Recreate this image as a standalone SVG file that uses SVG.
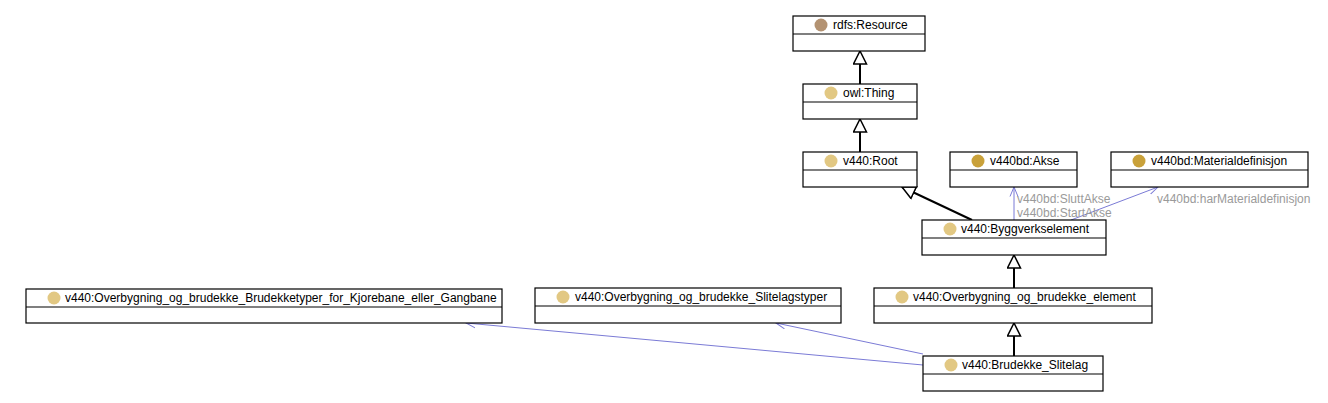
<svg xmlns="http://www.w3.org/2000/svg" width="1328" height="403" viewBox="0 0 1328 403">
<defs>
<style>
.box{fill:#fff;stroke:#000;stroke-width:1.2}
.div{stroke:#000;stroke-width:1.2}
.lbl{font-family:"Liberation Sans",Arial,sans-serif;font-size:12px;fill:#000;dominant-baseline:central}
.elbl{font-family:"Liberation Sans",Arial,sans-serif;font-size:12px;fill:#9a9a9a;dominant-baseline:central}
.inh{stroke:#000;stroke-width:2;fill:none;marker-end:url(#tri)}
.rel{stroke:#7b7bd6;stroke-width:1;fill:none;marker-end:url(#open)}
.c1{fill:#b39272}
.c2{fill:#e2c883}
.c3{fill:#c9a13a}
</style>
<marker id="tri" viewBox="0 0 15 15" refX="14" refY="7.5" markerWidth="15" markerHeight="15" markerUnits="userSpaceOnUse" orient="auto">
<path d="M1,1 L14,7.5 L1,14 Z" fill="#fff" stroke="#000" stroke-width="1.5"/>
</marker>
<marker id="open" viewBox="0 0 10 10" refX="9.5" refY="5" markerWidth="10" markerHeight="10" markerUnits="userSpaceOnUse" orient="auto">
<path d="M0,1 L9.5,5 L0,9" fill="none" stroke="#7b7bd6" stroke-width="1"/>
</marker>
</defs>
<rect width="1328" height="403" fill="#fff"/>
<g id="connectors">
<line class="inh" x1="860" y1="84" x2="860" y2="51"/>
<line class="inh" x1="860" y1="152" x2="860" y2="119"/>
<line class="inh" x1="972" y1="220" x2="902" y2="187"/>
<line class="inh" x1="1014" y1="288" x2="1014" y2="255"/>
<line class="inh" x1="1014" y1="356" x2="1014" y2="323"/>
<line class="rel" x1="1014" y1="220" x2="1014" y2="187"/>
<line class="rel" x1="1071" y1="220" x2="1158" y2="187"/>
<line class="rel" x1="923" y1="354" x2="776" y2="323"/>
<line class="rel" x1="923" y1="365" x2="466" y2="323"/>
<text class="elbl" x="1017" y="199">v440bd:SluttAkse</text>
<text class="elbl" x="1017" y="213">v440bd:StartAkse</text>
<text class="elbl" x="1157" y="199">v440bd:harMaterialdefinisjon</text>
</g>
<g id="rdfs_Resource">
<rect class="box" x="793" y="16" width="132" height="35"/>
<line class="div" x1="793" y1="34" x2="925" y2="34"/>
<circle class="c1" cx="821" cy="25" r="6.5"/>
<text class="lbl" x="833" y="25">rdfs:Resource</text>
</g>
<g id="owl_Thing">
<rect class="box" x="803" y="84" width="114" height="35"/>
<line class="div" x1="803" y1="102" x2="917" y2="102"/>
<circle class="c2" cx="831" cy="93" r="6.5"/>
<text class="lbl" x="843" y="93">owl:Thing</text>
</g>
<g id="v440_Root">
<rect class="box" x="803" y="152" width="114" height="35"/>
<line class="div" x1="803" y1="170" x2="917" y2="170"/>
<circle class="c2" cx="831" cy="161" r="6.5"/>
<text class="lbl" x="843" y="161">v440:Root</text>
</g>
<g id="v440bd_Akse">
<rect class="box" x="950" y="152" width="127" height="35"/>
<line class="div" x1="950" y1="170" x2="1077" y2="170"/>
<circle class="c3" cx="978" cy="161" r="6.5"/>
<text class="lbl" x="990" y="161">v440bd:Akse</text>
</g>
<g id="v440bd_Materialdefinisjon">
<rect class="box" x="1111" y="152" width="197" height="35"/>
<line class="div" x1="1111" y1="170" x2="1308" y2="170"/>
<circle class="c3" cx="1139" cy="161" r="6.5"/>
<text class="lbl" x="1151" y="161">v440bd:Materialdefinisjon</text>
</g>
<g id="v440_Byggverkselement">
<rect class="box" x="922" y="220" width="184" height="35"/>
<line class="div" x1="922" y1="238" x2="1106" y2="238"/>
<circle class="c2" cx="950" cy="229" r="6.5"/>
<text class="lbl" x="961" y="229">v440:Byggverkselement</text>
</g>
<g id="v440_Overbygning_og_brudekke_element">
<rect class="box" x="874" y="288" width="278" height="35"/>
<line class="div" x1="874" y1="306" x2="1152" y2="306"/>
<circle class="c2" cx="902" cy="297" r="6.5"/>
<text class="lbl" x="913" y="297">v440:Overbygning_og_brudekke_element</text>
</g>
<g id="v440_Brudekke_Slitelag">
<rect class="box" x="923" y="356" width="180" height="35"/>
<line class="div" x1="923" y1="374" x2="1103" y2="374"/>
<circle class="c2" cx="951" cy="365" r="6.5"/>
<text class="lbl" x="962" y="365">v440:Brudekke_Slitelag</text>
</g>
<g id="v440_Overbygning_og_brudekke_Brudekketyper_for_Kjorebane_eller_Gangbane">
<rect class="box" x="26" y="289" width="476" height="34"/>
<line class="div" x1="26" y1="307" x2="502" y2="307"/>
<circle class="c2" cx="54" cy="298" r="6.5"/>
<text class="lbl" x="65" y="298">v440:Overbygning_og_brudekke_Brudekketyper_for_Kjorebane_eller_Gangbane</text>
</g>
<g id="v440_Overbygning_og_brudekke_Slitelagstyper">
<rect class="box" x="535" y="288" width="306" height="35"/>
<line class="div" x1="535" y1="306" x2="841" y2="306"/>
<circle class="c2" cx="563" cy="297" r="6.5"/>
<text class="lbl" x="575" y="297">v440:Overbygning_og_brudekke_Slitelagstyper</text>
</g>
</svg>
